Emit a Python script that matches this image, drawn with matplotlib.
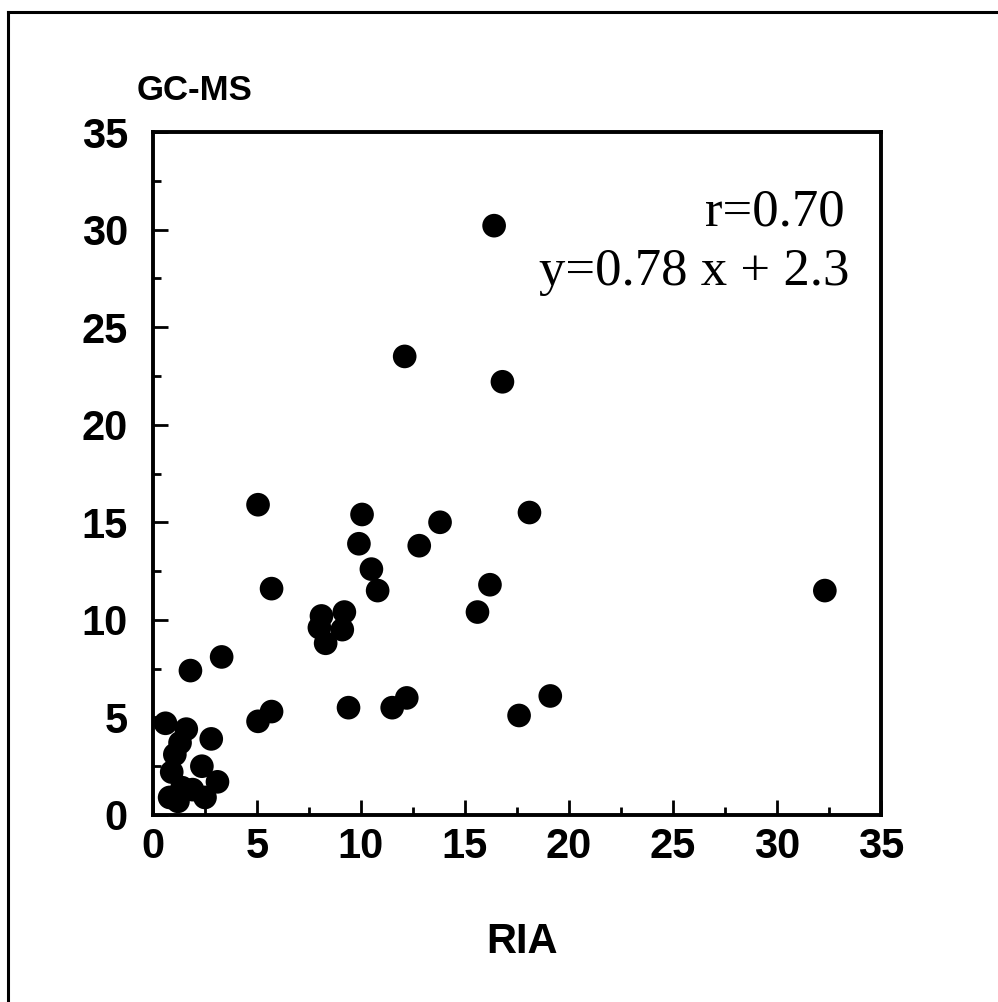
import matplotlib
matplotlib.use("Agg")
import matplotlib.pyplot as plt
from matplotlib.ticker import MultipleLocator
from matplotlib.lines import Line2D

ria = [16.4, 12.1, 16.8, 5.05, 10.05, 13.8, 18.1, 9.9, 12.8, 10.5, 10.8, 5.7, 16.2, 15.6, 32.3,
       8.1, 8.0, 8.3, 9.2, 9.1,
       9.4, 11.5, 12.2, 17.6, 19.1,
       5.7, 5.05, 1.8, 3.3,
       0.6, 1.6, 2.8, 1.3, 1.05, 0.9, 0.8, 1.2, 1.4, 1.9, 2.35, 3.1, 2.5]
gcms = [30.2, 23.5, 22.2, 15.9, 15.4, 15.0, 15.5, 13.9, 13.8, 12.6, 11.5, 11.6, 11.8, 10.4, 11.5,
        10.2, 9.6, 8.8, 10.4, 9.5,
        5.5, 5.5, 6.0, 5.1, 6.1,
        5.3, 4.8, 7.4, 8.1,
        4.7, 4.4, 3.9, 3.7, 3.1, 2.2, 0.9, 0.7, 1.4, 1.3, 2.5, 1.7, 0.9]
ticks = [0, 5, 10, 15, 20, 25, 30, 35]

sans = "Liberation Sans"
serif = "Liberation Serif"

fig = plt.figure(figsize=(9.98, 10.02), dpi=100)
ax = fig.add_axes([153 / 998, 1 - 815 / 1002, 728 / 998, 683 / 1002])

ax.scatter(ria, gcms, s=290, color="black", edgecolors="none", zorder=3, clip_on=False)

ax.set_xlim(0, 35)
ax.set_ylim(0, 35)
ax.set_xticks(ticks)
ax.set_yticks(ticks)
ax.xaxis.set_minor_locator(MultipleLocator(2.5))
ax.yaxis.set_minor_locator(MultipleLocator(2.5))

for s in ax.spines.values():
    s.set_linewidth(2.8)

ax.tick_params(which="both", direction="in", top=False, right=False, width=2, color="black")
ax.tick_params(which="major", length=11)
ax.tick_params(which="minor", length=6)
ax.tick_params(axis="x", which="major", pad=9)
ax.tick_params(axis="y", which="major", pad=18)

for lab in ax.get_xticklabels() + ax.get_yticklabels():
    lab.set_fontfamily(sans)
    lab.set_fontweight("bold")
    lab.set_fontsize(30)

fig.text(137 / 998, 1 - 100 / 1002, "GC-MS", fontfamily=sans, fontweight="bold",
         fontsize=25, ha="left", va="baseline")
fig.text(522 / 998, 1 - 953 / 1002, "RIA", fontfamily=sans, fontweight="bold",
         fontsize=30, ha="center", va="baseline")

fig.text(845 / 998, 1 - 226 / 1002, "r=0.70", fontfamily=serif, fontsize=38,
         ha="right", va="baseline")
fig.text(849 / 998, 1 - 285 / 1002, "y=0.78 x + 2.3", fontfamily=serif, fontsize=38,
         ha="right", va="baseline")

# frame of the scanned page
fig.add_artist(Line2D([8 / 998, 8 / 998], [0, 1 - 12 / 1002], color="black", lw=2.2,
                      transform=fig.transFigure))
fig.add_artist(Line2D([8 / 998, 1], [1 - 12 / 1002, 1 - 12 / 1002], color="black", lw=2.2,
                      transform=fig.transFigure))

plt.savefig("out.png", dpi=100)
